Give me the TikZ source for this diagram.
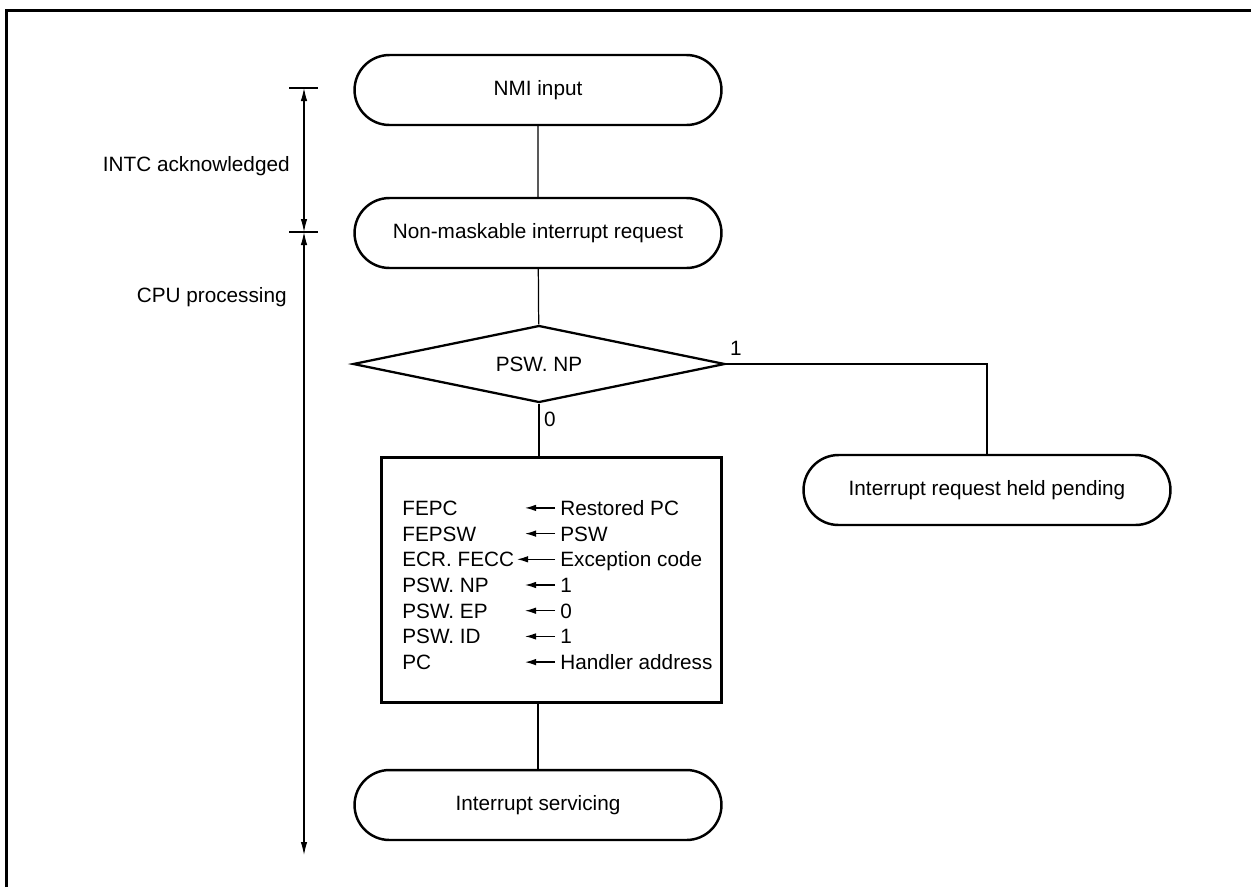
\documentclass[tikz,border=0pt]{standalone}
\usepackage{fontspec}
\setmainfont{Liberation Sans}
\usetikzlibrary{shapes.geometric, shapes.misc, arrows.meta, positioning, calc}

\tikzset{
  term/.style={rounded rectangle, draw, line width=1.4pt, minimum width=7.34cm, minimum height=1.4cm, inner sep=0pt},
  decide/.style={diamond, draw, line width=1.3pt, aspect=4.83, minimum width=7.44cm, minimum height=1.54cm, inner sep=0pt},
  procbox/.style={rectangle, draw, line width=1.7pt, minimum width=6.82cm, minimum height=4.92cm},
  flow/.style={line width=0.7pt},
  dimline/.style={line width=0.6pt, {Latex[length=0.26cm,width=0.13cm]}-{Latex[length=0.26cm,width=0.13cm]}},
  setarrow/.style={line width=0.7pt, -{Latex[length=0.22cm,width=0.13cm]}},
  row/.style={anchor=west, inner sep=0pt, text height=8.45pt, text depth=0pt},
}

\begin{document}
\begin{tikzpicture}[x=0.02cm, y=-0.02cm, font=\fontsize{11.8}{14}\selectfont]
  \useasboundingbox (0,0) rectangle (1251,887);
  % frame
  \draw[line width=1.6pt] (6.5,887) -- (6.5,10.5) -- (1251,10.5);

  % flow
  \node[term] (nmi) at (538,90) {NMI input};
  \node[term] (req) at (538,233) {Non-maskable interrupt request};
  \node[decide] (np) at (539,364) {PSW. NP};
  \node[procbox] (save) at (551.5,580) {};
  \node[term] (pend) at (987,490) {Interrupt request held pending};
  \node[term] (serv) at (538,805) {Interrupt servicing};

  \draw[flow] (nmi) -- (req);
  \draw[flow] (req) -- (np);
  \draw[flow] (np.south) -- (np.south |- save.north);
  \draw[flow] (np.east) -| (pend.north);
  \draw[flow] (save.south -| serv.north) -- (serv.north);

  \node at (736,348) {1};
  \node at (550,419) {0};

  % register settings
  \foreach \lt/\rt/\tip [count=\i] in {FEPC/Restored PC/525, FEPSW/PSW/525,
      ECR. FECC/Exception code/517, PSW. NP/1/525, PSW. EP/0/525,
      PSW. ID/1/525, PC/Handler address/525} {
    \node[row] (reg\i) at (402, {482.2+25.7*\i}) {\lt};
    \node[row] (val\i) at (560, {482.2+25.7*\i}) {\rt};
    \draw[setarrow] ([xshift=-0.1cm]val\i.west) -- (val\i.west -| \tip,0);
  }

  % timing marks
  \coordinate (dimA) at (304,88);
  \coordinate (dimB) at (304,232);
  \coordinate (dimC) at (304,855);
  \draw[line width=0.6pt] ([xshift=-0.3cm]dimA) -- ([xshift=0.28cm]dimA);
  \draw[line width=0.6pt] ([xshift=-0.3cm]dimB) -- ([xshift=0.28cm]dimB);
  \draw[dimline] (dimA) -- (dimB);
  \draw[dimline] (dimB) -- (dimC);
  \node[anchor=east, inner sep=0pt] at (290,166) {INTC acknowledged};
  \node[anchor=east, inner sep=0pt] at (287,297) {CPU processing};
\end{tikzpicture}
\end{document}
